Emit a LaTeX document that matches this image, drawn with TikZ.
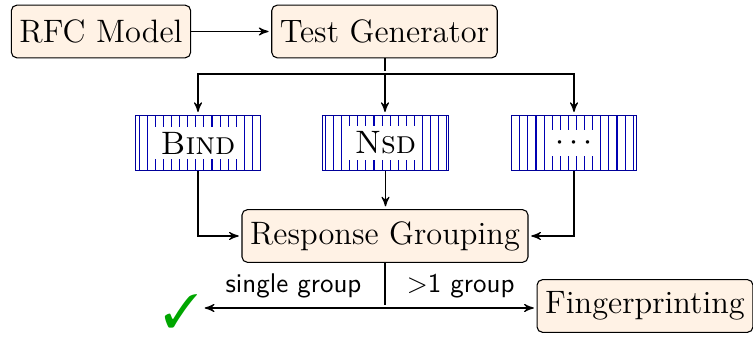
\documentclass[tikz,border=0pt]{standalone}
\usepackage{tikz}
\usepackage{pifont}
\usetikzlibrary{arrows,calc,patterns}

\begin{document}
\begin{tikzpicture}[->,>=stealth',shorten >=1pt,thin,x=0.01302cm,y=-0.01302cm,
    block/.style={draw,rounded corners=2pt,fill=orange!10,font=\large,inner xsep=3pt,minimum height=19.5pt},
    probe/.style={draw=blue!60!black,pattern=vertical lines,pattern color=blue!70!black,minimum width=46.5pt,minimum height=20.5pt},
    probetext/.style={fill=white,font=\large,inner sep=2pt},
    branch/.style={font=\sffamily}]
		\useasboundingbox (0,0) rectangle (753,338);
		\node[block]           (rfc)  at (101,31.5)  {RFC Model};
		\node[block]           (tg)   at (384.5,31.5){Test Generator};
		\node[probe]           (bind) at (198,143)   {};
		\node[probetext]              at (bind)      {\textsc{Bind}};
		\node[probe]           (nsd)  at (385.5,143) {};
		\node[probetext]              at (nsd)       {\textsc{Nsd}};
		\node[probe]           (more) at (574,143)   {};
		\node[probetext]              at (more)      {$\cdots$};
		\node[block]           (rg)   at (385,236)   {Response Grouping};
		\node[block]           (fp)   at (645,306)   {Fingerprinting};
		\node[text=green!65!black,font=\LARGE,inner sep=0pt] (ok) at (181,311) {\ding{51}};
		\coordinate (split) at (385,74);
		\coordinate (fork)  at (385,308);
		\coordinate (okend) at (202,308);
		\draw (rfc) -- (tg);
		\draw[-] (tg.south -| split) -- (split);
		\draw (split) -| (bind.north);
		\draw (split) -| (more.north);
		\draw (split) -- (split |- nsd.north);
		\draw (bind.south) |- (rg.west);
		\draw (nsd.south) -- (nsd.south |- rg.north);
		\draw (more.south) |- (rg.east);
		\draw[-] (rg.south -| fork) -- (fork);
		\draw (fork) -- node[branch,above] {single group} (okend);
		\draw (fork) -- node[branch,above] {$>$1 group} (fork -| fp.west);
\end{tikzpicture}
\end{document}
